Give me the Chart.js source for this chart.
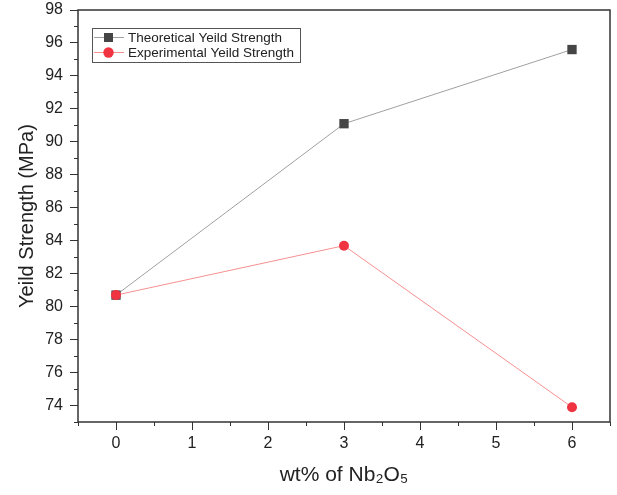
<!DOCTYPE html>
<html>
<head>
<meta charset="utf-8">
<script src="https://cdn.jsdelivr.net/npm/chart.js@4/dist/chart.umd.min.js"></script>
<style>
  html, body { margin: 0; padding: 0; background: #fff; }
  #wrap { width: 617px; height: 495px; }
</style>
</head>
<body>
<div id="wrap"><canvas id="myChart" width="617" height="495"></canvas></div>
<script>
const nb2o5 = [0, 3, 6];
const theoretical = [80.7, 91.1, 95.6];
const experimental = [80.7, 83.7, 73.9];
const xTicks = [0, 1, 2, 3, 4, 5, 6];
const yTicks = [74, 76, 78, 80, 82, 84, 86, 88, 90, 92, 94, 96, 98];

const FONT = 'Arial, "Liberation Sans", sans-serif';

function points(xs, ys) {
  return xs.map((x, i) => ({ x: x, y: ys[i] }));
}

// Origin style frame, minor ticks and an inset legend
const framePlugin = {
  id: 'frame',
  afterDraw(chart) {
    const ctx = chart.ctx;
    const a = chart.chartArea;
    const xs = chart.scales.x;
    const ys = chart.scales.y;
    ctx.save();
    ctx.strokeStyle = '#333';
    ctx.lineWidth = 1.5;
    ctx.strokeRect(a.left, a.top, a.right - a.left, a.bottom - a.top);

    // minor ticks
    ctx.lineWidth = 1;
    ctx.beginPath();
    for (let v = -0.5; v <= 6.5; v += 1) {
      let px = Math.round(xs.getPixelForValue(v)) + 0.5;
      ctx.moveTo(px, a.bottom);
      ctx.lineTo(px, a.bottom + 4);
    }
    for (let v = 73; v <= 98; v += 2) {
      let py = Math.round(ys.getPixelForValue(v)) + 0.5;
      ctx.moveTo(a.left, py);
      ctx.lineTo(a.left - 4, py);
    }
    ctx.stroke();

    // legend
    const lx = a.left + 14, ly = a.top + 18, lw = 208, lh = 34;
    ctx.strokeStyle = '#555';
    ctx.lineWidth = 1;
    ctx.fillStyle = '#fff';
    ctx.fillRect(lx, ly, lw, lh);
    ctx.strokeRect(lx + 0.5, ly + 0.5, lw, lh);
    chart.data.datasets.forEach((ds, i) => {
      const cy = ly + 9 + i * 15;
      ctx.strokeStyle = ds.borderColor;
      ctx.beginPath();
      ctx.moveTo(lx + 2, cy + 0.5);
      ctx.lineTo(lx + 32, cy + 0.5);
      ctx.stroke();
      ctx.fillStyle = ds.pointBackgroundColor;
      if (ds.pointStyle === 'rect') {
        ctx.fillRect(lx + 12, cy - 4, 9, 9);
      } else {
        ctx.beginPath();
        ctx.arc(lx + 16.5, cy + 0.5, 5.2, 0, Math.PI * 2);
        ctx.fill();
      }
      ctx.fillStyle = '#222';
      ctx.font = '13.5px ' + FONT;
      ctx.textBaseline = 'middle';
      ctx.fillText(ds.label, lx + 36, cy + 1);
    });
    ctx.restore();
  }
};

new Chart('myChart', {
  type: 'line',
  data: {
    datasets: [
      {
        label: 'Theoretical Yeild Strength',
        data: points(nb2o5, theoretical),
        order: 1,
        borderColor: '#a0a0a0',
        borderWidth: 1,
        pointStyle: 'rect',
        pointRadius: 6.6,
        pointBackgroundColor: '#454545',
        pointBorderColor: '#454545',
        pointBorderWidth: 0,
      },
      {
        label: 'Experimental Yeild Strength',
        data: points(nb2o5, experimental),
        order: 0,
        borderColor: '#f79090',
        borderWidth: 1,
        pointStyle: 'circle',
        pointRadius: 5,
        pointBackgroundColor: '#ef3340',
        pointBorderColor: '#ef3340',
        pointBorderWidth: 0,
      }
    ]
  },
  options: {
    responsive: false,
    animation: false,
    layout: { padding: { top: 0, right: 7, left: 0, bottom: 0 } },
    plugins: {
      legend: { display: false },
      tooltip: { enabled: false }
    },
    scales: {
      x: {
        type: 'linear',
        min: -0.5,
        max: 6.5,
        afterBuildTicks(scale) {
          scale.ticks = xTicks.map(v => ({ value: v }));
        },
        afterFit(scale) { scale.height = 73; },
        grid: {
          drawOnChartArea: false,
          drawTicks: true,
          tickLength: 8,
          tickColor: '#333',
          tickWidth: 1,
        },
        border: { display: false },
        ticks: {
          color: '#222',
          font: { family: FONT, size: 16 },
          padding: 4,
          maxRotation: 0,
        },
        title: {
          display: true,
          text: 'wt% of Nb₂O₅',
          color: '#222',
          font: { family: FONT, size: 21 },
          padding: { top: 4, bottom: 7 }
        }
      },
      y: {
        min: 73,
        max: 98,
        afterBuildTicks(scale) {
          scale.ticks = yTicks.map(v => ({ value: v }));
        },
        afterFit(scale) {
          scale.width = 78;
          scale.paddingTop = 10;
          scale.paddingBottom = 0;
        },
        grid: {
          drawOnChartArea: false,
          drawTicks: true,
          tickLength: 8,
          tickColor: '#333',
          tickWidth: 1,
        },
        border: { display: false },
        ticks: {
          color: '#222',
          font: { family: FONT, size: 16 },
          padding: 7,
        },
        title: {
          display: true,
          text: 'Yeild Strength (MPa)',
          color: '#222',
          font: { family: FONT, size: 20 },
          padding: { bottom: 0, top: 15 }
        }
      }
    }
  },
  plugins: [framePlugin]
});
</script>
</body>
</html>
